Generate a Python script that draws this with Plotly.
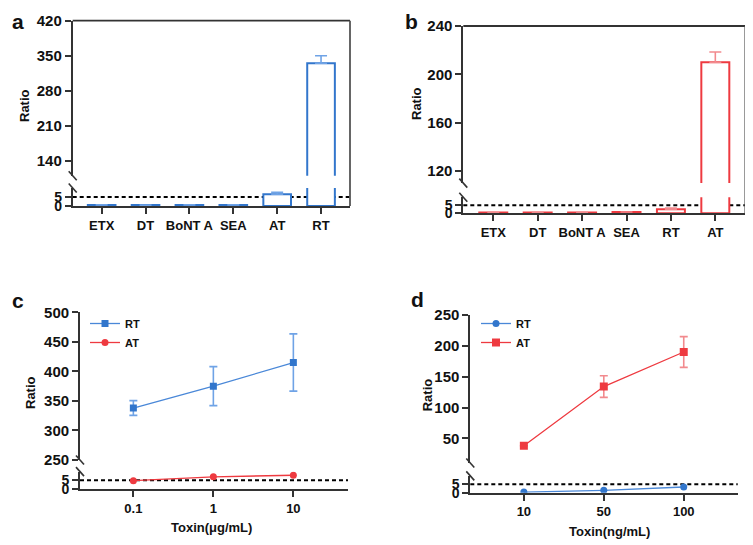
import plotly.graph_objects as go

# The page body has an 8px margin, so the figure is sized to the visible
# window area and every position below is given in reference-picture pixels.
OFF = 8
W, H = 745, 537
FONT = "Arial, Liberation Sans, sans-serif"
TXT = "#111111"
AXC = "#333333"

# ---------------- data ----------------
a_categories = ["ETX", "DT", "BoNT A", "SEA", "AT", "RT"]
a_ratio = [0.6, 0.5, 0.6, 0.6, 6.5, 335]
a_error = [0, 0, 0, 0, 1.1, 15]

b_categories = ["ETX", "DT", "BoNT A", "SEA", "RT", "AT"]
b_ratio = [0.5, 0.5, 0.5, 0.8, 2.5, 210]
b_error = [0, 0, 0, 0, 0.8, 8.5]

c_conc = [0.1, 1, 10]
c_rt = [338, 375, 415]
c_rt_err = [12.5, 33, 48.5]
c_at = [4.8, 7.0, 7.9]

d_conc = ["10", "50", "100"]
d_rt = [0.4, 1.4, 3.4]
d_at = [38, 134, 190]
d_at_err = [0, 17.5, 25]

threshold = 5

a_upper_ticks = [140, 210, 280, 350, 420]
b_upper_ticks = [120, 160, 200, 240]
c_upper_ticks = [250, 300, 350, 400, 450, 500]
d_upper_ticks = [50, 100, 150, 200, 250]
lower_ticks = [0, 5]

BLUE = "#3276cc"
BLUE_L = "#6fa3e6"
RED = "#ee3a40"
RED_L = "#f28a8e"


def fx(p):
    return (p - OFF) / W


def fy(p):
    return 1 - (p - OFF) / H


fig = go.Figure()

ytickfont = dict(family=FONT, size=15, color=TXT, weight="bold")
ylowfont = dict(family=FONT, size=14, color=TXT, weight="bold")
xtickfont = dict(family=FONT, size=13, color=TXT, weight="bold")


def yaxis_cfg(dom_top, dom_bot, rng, ticks, anchor, font):
    return dict(domain=[fy(dom_bot), fy(dom_top)], range=rng, tickvals=ticks,
                showline=True, linecolor=AXC, linewidth=1.8, ticks="outside",
                ticklen=6, tickwidth=1.6, tickcolor=AXC, showgrid=False,
                zeroline=False, anchor=anchor, tickfont=font,
                automargin=False, fixedrange=True)


def xaxis_cfg(left, right, anchor, **kw):
    d = dict(domain=[fx(left), fx(right)], showline=True, linecolor=AXC,
             linewidth=1.8, ticks="outside", ticklen=6, tickwidth=1.6,
             tickcolor=AXC, showgrid=False, zeroline=False, anchor=anchor,
             tickfont=xtickfont, automargin=False, fixedrange=True)
    d.update(kw)
    return d


# panel geometry (reference pixels)
panels = {
    "a": dict(x=(72.7, 350), low=(188, 206), up=(20.7, 175.7), uprng=[110, 420]),
    "b": dict(x=(463.3, 745.3), low=(197.3, 213.3), up=(26, 183.1), uprng=[110, 240]),
    "c": dict(x=(80, 348), low=(471.6, 489), up=(312.3, 460), uprng=[250, 500]),
    "d": dict(x=(470.3, 737.7), low=(475.9, 492.7), up=(315, 463), uprng=[10, 250]),
}

layout = {}
# a
layout["xaxis"] = xaxis_cfg(*panels["a"]["x"], "y", type="category", range=[-0.66, 5.66])
layout["yaxis"] = yaxis_cfg(*panels["a"]["low"], [0, 10], lower_ticks, "x", ylowfont)
layout["yaxis2"] = yaxis_cfg(*panels["a"]["up"], panels["a"]["uprng"], a_upper_ticks, "x", ytickfont)
# b
layout["xaxis2"] = xaxis_cfg(*panels["b"]["x"], "y3", type="category", range=[-0.675, 5.675])
layout["yaxis3"] = yaxis_cfg(*panels["b"]["low"], [0, 10], lower_ticks, "x2", ylowfont)
layout["yaxis4"] = yaxis_cfg(*panels["b"]["up"], panels["b"]["uprng"], b_upper_ticks, "x2", ytickfont)
# c
layout["xaxis3"] = xaxis_cfg(*panels["c"]["x"], "y5", type="log", range=[-1.667, 1.683],
                             tickvals=c_conc, ticktext=["0.1", "1", "10"])
layout["yaxis5"] = yaxis_cfg(*panels["c"]["low"], [0, 10], lower_ticks, "x3", ylowfont)
layout["yaxis6"] = yaxis_cfg(*panels["c"]["up"], panels["c"]["uprng"], c_upper_ticks, "x3", ytickfont)
# d
layout["xaxis4"] = xaxis_cfg(*panels["d"]["x"], "y7", type="category", range=[-0.67, 2.675])
layout["yaxis7"] = yaxis_cfg(*panels["d"]["low"], [0, 10], lower_ticks, "x4", ylowfont)
layout["yaxis8"] = yaxis_cfg(*panels["d"]["up"], panels["d"]["uprng"], d_upper_ticks, "x4", ytickfont)


# ---------------- bars a & b ----------------
def add_bars(cats, vals, errs, xa, ylow, yup, color, ecolor):
    for ya in (ylow, yup):
        fig.add_trace(go.Bar(
            x=cats, y=vals, xaxis=xa, yaxis=ya, width=0.63,
            marker=dict(color="white", line=dict(color=color, width=2)),
            error_y=dict(type="data", symmetric=False, array=errs,
                         arrayminus=[0] * len(errs), color=ecolor,
                         thickness=1.6, width=6),
            showlegend=False, hoverinfo="x+y"))


add_bars(a_categories, a_ratio, a_error, "x", "y", "y2", BLUE, BLUE_L)
add_bars(b_categories, b_ratio, b_error, "x2", "y3", "y4", RED, RED_L)

# ---------------- lines c ----------------
fig.add_trace(go.Scatter(
    x=c_conc, y=c_rt, xaxis="x3", yaxis="y6", name="RT", mode="lines+markers",
    line=dict(color="#4a88d8", width=1.3),
    marker=dict(symbol="square", size=7, color=BLUE),
    error_y=dict(type="data", array=c_rt_err, color=BLUE_L, thickness=1.6, width=4),
    legend="legend"))
fig.add_trace(go.Scatter(
    x=c_conc, y=c_at, xaxis="x3", yaxis="y5", name="AT", mode="lines+markers",
    line=dict(color=RED, width=1.3),
    marker=dict(symbol="circle", size=7, color=RED),
    legend="legend"))

# ---------------- lines d ----------------
fig.add_trace(go.Scatter(
    x=d_conc, y=d_rt, xaxis="x4", yaxis="y7", name="RT", mode="lines+markers",
    line=dict(color="#4a88d8", width=1.3),
    marker=dict(symbol="circle", size=7, color=BLUE),
    legend="legend2"))
fig.add_trace(go.Scatter(
    x=d_conc, y=d_at, xaxis="x4", yaxis="y8", name="AT", mode="lines+markers",
    line=dict(color=RED, width=1.3),
    marker=dict(symbol="square", size=8, color=RED),
    error_y=dict(type="data", array=d_at_err, color=RED_L, thickness=1.6, width=4),
    legend="legend2"))

# ---------------- decorations ----------------
shapes = []
pairs = [("x", "y", "y2", True), ("x2", "y3", "y4", True),
         ("x3", "y5", "y6", False), ("x4", "y7", "y8", False)]
for key, (xa, ylow, yup, framed) in zip("abcd", pairs):
    # threshold dashed line
    shapes.append(dict(type="line", xref=f"{xa} domain", x0=0, x1=1,
                       yref=ylow, y0=threshold, y1=threshold, layer="below",
                       line=dict(color="black", width=2, dash="4px,3px")))
    # axis break marks
    for yref, anc in ((f"{yup} domain", 0), (f"{ylow} domain", 1)):
        shapes.append(dict(type="line", xref=f"{xa} domain", xsizemode="pixel",
                           xanchor=0, x0=-4, x1=4, yref=yref, ysizemode="pixel",
                           yanchor=anc, y0=4.5, y1=-4.5,
                           line=dict(color=AXC, width=1.6)))
    if framed:
        p = panels[key]
        shapes.append(dict(type="line", xref=f"{xa} domain", x0=0, x1=1,
                           yref=f"{yup} domain", y0=1, y1=1,
                           line=dict(color=AXC, width=1.8)))
        shapes.append(dict(type="line", xref=f"{xa} domain", x0=1, x1=1,
                           yref="paper", y0=fy(p["low"][1]), y1=fy(p["up"][0]),
                           line=dict(color="#555555", width=1.8)))

ann = []
labfont = dict(family=FONT, size=21, color=TXT, weight="bold")
for t, x, y in (("c", 18.3, 300), ("d", 417, 299)):
    ann.append(dict(text=t, x=fx(x), y=fy(y), xref="paper", yref="paper",
                    showarrow=False, font=labfont, xanchor="center", yanchor="middle"))
for t, x in (("a", 17.5), ("b", 411.5)):
    ann.append(dict(text=t, x=fx(x), y=1, xref="paper", yref="paper",
                    showarrow=False, font=labfont, xanchor="center", yanchor="top"))
tfont = dict(family=FONT, size=13, color=TXT, weight="bold")
for x, y in ((24, 106), (416, 104), (30.5, 392.5), (427.3, 395)):
    ann.append(dict(text="Ratio", x=fx(x), y=fy(y), xref="paper", yref="paper",
                    showarrow=False, font=tfont, textangle=-90,
                    xanchor="center", yanchor="middle"))
ann.append(dict(text="Toxin(μg/mL)", x=fx(211), y=fy(527.7), xref="paper", yref="paper",
                showarrow=False, font=tfont, xanchor="center", yanchor="middle"))
ann.append(dict(text="Toxin(ng/mL)", x=fx(609), y=fy(531.2), xref="paper", yref="paper",
                showarrow=False, font=tfont, xanchor="center", yanchor="middle"))

legfont = dict(family=FONT, size=11, color=TXT, weight="bold")
fig.update_layout(
    width=W, height=H, autosize=False,
    margin=dict(l=0, r=0, t=0, b=0, pad=0, autoexpand=False),
    paper_bgcolor="white", plot_bgcolor="rgba(0,0,0,0)",
    font=dict(family=FONT, color=TXT),
    barmode="overlay",
    shapes=shapes, annotations=ann,
    legend=dict(x=fx(85), y=fy(309), xanchor="left", yanchor="top",
                bgcolor="rgba(0,0,0,0)", font=legfont, itemwidth=30),
    legend2=dict(x=fx(476), y=fy(309), xanchor="left", yanchor="top",
                 bgcolor="rgba(0,0,0,0)", font=legfont, itemwidth=30),
    **layout,
)

fig.write_html("out.html")
